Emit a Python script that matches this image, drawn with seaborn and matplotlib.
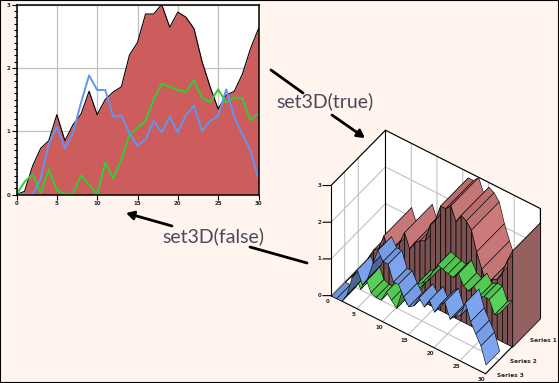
import matplotlib
matplotlib.use('Agg')
import matplotlib.pyplot as plt
import numpy as np
import pandas as pd
import seaborn as sns
from mpl_toolkits.mplot3d import proj3d
from mpl_toolkits.mplot3d.art3d import Poly3DCollection

# Values.
x_vals = list(range(31))
red_vals = [0, .05, .45, .73, .85, 1.26, .85, 1.1, 1.27, 1.63, 1.26, 1.5, 1.62, 1.7, 2.2,
            2.4, 2.85, 2.85, 3.0, 2.64, 2.88, 2.8, 2.62, 2.1, 1.7, 1.35, 1.57, 1.63, 1.9, 2.3, 2.62]
green_vals = [0, .2, .32, .02, .4, .07, .01, .01, .3, .15, 0, .5, .25, .55, .95,
              1.05, 1.16, 1.5, 1.75, 1.7, 1.65, 1.62, 1.8, 1.53, 1.46, 1.66, 1.45, 1.53, 1.52, 1.17, 1.28]
blue_vals = [0, 0, 0, .25, .8, 1.07, .73, .97, 1.45, 1.88, 1.65, 1.65, 1.23, 1.24, .97,
             .77, .87, 1.16, .98, 1.23, .98, 1.25, 1.4, 1.0, 1.16, 1.24, 1.66, 1.22, .95, .7, .25]
series_names = ['Series 1', 'Series 2', 'Series 3']
x_ticks = [0, 5, 10, 15, 20, 25, 30]
y_ticks = [0, 1, 2, 3]

W, H = 559, 383
BG = '#FFF5EE'
RED = '#CD5C5C'
GREEN = '#32CD32'
BLUE = '#6495ED'
GRID = '#C0C0C0'

sns.set_style('white')
plt.rcParams['font.family'] = ['DejaVu Sans']

fig = plt.figure(figsize=(W / 100, H / 100), dpi=100, facecolor=BG)


def box(left, top, right, bottom):
    return [left / W, 1 - bottom / H, (right - left) / W, (bottom - top) / H]


# 2D chart
ax = fig.add_axes(box(16.5, 4.5, 258.5, 194.5))
ax.set_facecolor('white')
ax.grid(True, color=GRID, lw=0.9)
ax.set_axisbelow(True)
ax.fill_between(x_vals, red_vals, 0, color=RED, lw=0, zorder=2)
ax.plot(x_vals, red_vals, color='black', lw=0.8, zorder=3)
df = pd.DataFrame({'x': x_vals, 'green': green_vals, 'blue': blue_vals})
sns.lineplot(data=df, x='x', y='green', color=GREEN, lw=1.4, ax=ax, zorder=4)
sns.lineplot(data=df, x='x', y='blue', color=BLUE, lw=1.4, ax=ax, zorder=5)
ax.set_xlim(0, 30)
ax.set_ylim(0, 3)
ax.set_xticks(x_ticks)
ax.set_yticks(y_ticks)
ax.set_yticks(np.arange(0, 3.01, 0.1), minor=True)
ax.set_xlabel('')
ax.set_ylabel('')
ax.tick_params(which='major', length=3.5, width=0.8, labelsize=4, pad=1, color='black', left=True, bottom=True)
ax.tick_params(which='minor', axis='y', length=2.5, width=0.8, color='black', left=True)
for lab in ax.get_xticklabels() + ax.get_yticklabels():
    lab.set_fontweight('bold')
for s in ax.spines.values():
    s.set_color('black')
    s.set_linewidth(1.1)
    s.set_zorder(6)

# 3D chart
ax3 = fig.add_axes(box(302, 125.5, 562, 385.5), projection='3d', proj_type='ortho',
                   computed_zorder=False)
ax3.patch.set_alpha(0)
ax3.view_init(elev=45.8, azim=-54.8)
ax3.set_box_aspect((571, 285, 477), zoom=0.985)
ax3.set_xlim(0, 30)
ax3.set_ylim(0, 1)
ax3.set_zlim(0, 3)
ax3.set_xticks(x_ticks)
ax3.set_yticks([0.25, 0.5])
ax3.set_zticks(y_ticks)
for a in (ax3.xaxis, ax3.yaxis, ax3.zaxis):
    a.set_pane_color('white')
    a.pane.set_edgecolor('none')
    a._axinfo['grid'].update(color=GRID, linewidth=0.8)
    a._axinfo['tick'].update(inward_factor=0, outward_factor=0)
    a.line.set_color('none')
    a.set_major_formatter(matplotlib.ticker.NullFormatter())
ax3.grid(True)


def label3d(x, y, z, s, size=4):
    # flat text placed where the 3D point lands on the axes
    px, py, _ = proj3d.proj_transform(x, y, z, ax3.get_proj())
    ax3.text2D(px, py, s, transform=ax3.transData, fontsize=size, fontweight='bold', ha='center', va='center')


# box outline, tick marks and tick labels in the chart's own coordinates
outline = [[(0, 0, 0), (0, 0, 3)], [(0, 0, 3), (0, 1, 3)], [(0, 1, 3), (30, 1, 3)], [(30, 1, 3), (30, 1, 0)],
           [(0, 0, 0), (30, 0, 0)], [(30, 0, 0), (30, 1, 0)], [(0, 1, 3), (0, 1, 0)]]
for p0, p1 in outline:
    ax3.plot(*zip(p0, p1), color='black', lw=0.8, zorder=5)
for t in x_ticks:
    label3d(t - 0.7, 0, -0.21, str(t))
for t in y_ticks:
    ax3.plot([0, -1.05], [0, -0.05], [t, t], color='black', lw=0.8, zorder=5)
    label3d(-1.53, -0.072, t, str(t))
for name, d in zip(series_names, [0.74, 0.37, 0.12]):
    label3d(33.5, d, 0.03, name, size=4.2)


def shaded(rgb, k):
    return tuple(np.clip(np.array(matplotlib.colors.to_rgb(rgb)) * k, 0, 1))


def ribbon(vals, d0, d1, top_col, order):
    for i in range(len(vals) - 1):
        q = [(i, d0, vals[i]), (i + 1, d0, vals[i + 1]), (i + 1, d1, vals[i + 1]), (i, d1, vals[i])]
        rise = vals[i + 1] - vals[i]
        # steep rises show the underside of the ribbon, falls catch the light
        k = 0.68 if rise > 0.45 else 1 - 0.25 * rise
        ax3.add_collection3d(Poly3DCollection([q], facecolor=shaded(top_col, k), edgecolor='black',
                                              linewidth=0.4, zorder=order + i * 2 + 1))


def front_wall(vals, d0, order):
    for i in range(len(vals) - 1):
        q = [(i, d0, 0), (i + 1, d0, 0), (i + 1, d0, vals[i + 1]), (i, d0, vals[i])]
        ax3.add_collection3d(Poly3DCollection([q], facecolor='#7A5050', edgecolor='black', linewidth=0.5,
                                              zorder=order + i * 2))


ribbon(red_vals, 0.49, 1.0, '#B56C6C', 10)
front_wall(red_vals, 0.49, 10)
cap = [(30, 0.49, 0), (30, 1.0, 0), (30, 1.0, red_vals[-1]), (30, 0.49, red_vals[-1])]
ax3.add_collection3d(Poly3DCollection([cap], facecolor='#956060', edgecolor='black', linewidth=0.5, zorder=100))
ribbon(green_vals, 0.25, 0.49, '#50C050', 200)
ribbon(blue_vals, 0.0, 0.25, '#7094D8', 300)

# Notes and arrows on a see-through layer measured in pixels
top = fig.add_axes([0, 0, 1, 1], zorder=10)
top.set_xlim(0, W)
top.set_ylim(H, 0)
top.axis('off')


def stroke(p0, p1, head=False):
    style = '-|>,head_width=0.25,head_length=0.45' if head else '-'
    top.annotate('', xy=p1, xytext=p0,
                 arrowprops=dict(arrowstyle=style, color='black', lw=2, shrinkA=0, shrinkB=0))


stroke((271, 70), (303, 93))
stroke((332, 115), (365, 138), head=True)
stroke((307, 263), (250, 247))
stroke((172, 226), (126, 213), head=True)
for px, py, label in [(325, 101, 'set3D(true)'), (213, 236, 'set3D(false)')]:
    top.text(px, py, label, fontsize=14, family='Lato', color='#4A4A5C', ha='center', va='center')

# Picture frame
top.add_patch(plt.Rectangle((0, 0), W, H, fill=False, edgecolor='black', lw=1.5))

fig.savefig('out.png', dpi=100, facecolor=BG)
